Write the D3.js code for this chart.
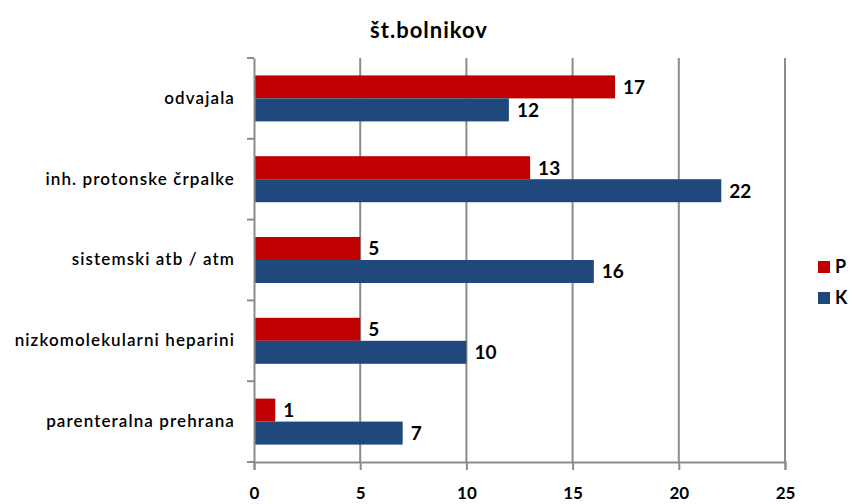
<!DOCTYPE html>
<html>
<head>
<meta charset="utf-8">
<script src="https://cdn.jsdelivr.net/npm/d3@7"></script>
<style>
  body { margin: 0; background: #fff; }
  svg { display: block; }
  text { font-family: Lato, "DejaVu Sans", sans-serif; }
</style>
</head>
<body>
<div id="chart"></div>
<script>
// chart data
const categories = ["odvajala", "inh. protonske črpalke", "sistemski atb / atm", "nizkomolekularni heparini", "parenteralna prehrana"];
const seriesNames = ["P", "K"];
const valuesP = [17, 13, 5, 5, 1];
const valuesK = [12, 22, 16, 10, 7];
const xTicks = [0, 5, 10, 15, 20, 25];
const colors = {P: "#c00000", K: "#1f497d"};

const W = 855, H = 504;
const margin = {top: 58, right: 70, bottom: 42, left: 254};
const width = 785 - margin.left, height = 462 - margin.top;

const svg = d3.select("#chart").append("svg")
  .attr("width", W).attr("height", H);

// title
svg.append("text")
  .attr("x", 429).attr("y", 38)
  .attr("text-anchor", "middle")
  .style("font-size", "22px").style("font-weight", "bold")
  .style("letter-spacing", "1px")
  .text("št.bolnikov");

const g = svg.append("g")
  .attr("transform", "translate(" + margin.left + "," + margin.top + ")");

const x = d3.scaleLinear().domain([0, 25]).range([0, width]);
const y = d3.scaleBand().domain(categories).range([0, height]);
const inner = d3.scaleBand().domain(seriesNames).range([y.bandwidth() / 2 - 23, y.bandwidth() / 2 + 23]);

// vertical gridlines
g.selectAll("line.grid")
  .data(xTicks.slice(1))
  .enter().append("line")
  .attr("class", "grid")
  .attr("x1", d => x(d)).attr("x2", d => x(d))
  .attr("y1", 0).attr("y2", height)
  .attr("stroke", "#8c8c8c").attr("stroke-width", 2);

// bars
const data = [];
categories.forEach((c, i) => {
  data.push({cat: c, s: "P", v: valuesP[i]});
  data.push({cat: c, s: "K", v: valuesK[i]});
});

g.selectAll("rect.bar")
  .data(data)
  .enter().append("rect")
  .attr("class", "bar")
  .attr("x", x(0))
  .attr("y", d => y(d.cat) + inner(d.s))
  .attr("width", d => x(d.v) - x(0))
  .attr("height", inner.bandwidth())
  .attr("fill", d => colors[d.s]);

// value labels
g.selectAll("text.val")
  .data(data)
  .enter().append("text")
  .attr("class", "val")
  .attr("x", d => x(d.v) + 8)
  .attr("y", d => y(d.cat) + inner(d.s) + inner.bandwidth() / 2)
  .attr("dy", "0.36em")
  .style("font-size", "19px").style("font-weight", "bold")
  .text(d => d.v);

// x axis
const xAxis = g.append("g")
  .attr("transform", "translate(0," + height + ")")
  .call(d3.axisBottom(x).tickValues(xTicks).tickSize(8).tickPadding(17));
xAxis.select(".domain").attr("stroke", "#8c8c8c").attr("stroke-width", 2);
xAxis.selectAll(".tick line").attr("stroke", "#8c8c8c").attr("stroke-width", 2);
xAxis.selectAll(".tick text")
  .style("font-size", "17px").style("font-weight", "bold")
  .style("font-family", "Lato, sans-serif").attr("fill", "#000");

// y axis
const yAxis = g.append("g")
  .call(d3.axisLeft(y).tickSize(0).tickPadding(19));
yAxis.select(".domain").attr("stroke", "#8c8c8c").attr("stroke-width", 2);
yAxis.selectAll(".tick text")
  .style("font-size", "17px").style("font-weight", "600")
  .style("letter-spacing", "1.1px")
  .style("font-family", "Lato, sans-serif").attr("fill", "#000");

// category separators on y axis
g.selectAll("line.ysep")
  .data(d3.range(categories.length + 1))
  .enter().append("line")
  .attr("class", "ysep")
  .attr("x1", -7).attr("x2", 0)
  .attr("y1", i => i * y.step()).attr("y2", i => i * y.step())
  .attr("stroke", "#8c8c8c").attr("stroke-width", 2);

// legend
const legend = svg.append("g").attr("transform", "translate(818,261)");
seriesNames.forEach((s, i) => {
  legend.append("rect")
    .attr("x", 0).attr("y", i * 31)
    .attr("width", 12).attr("height", 12)
    .attr("fill", colors[s]);
  legend.append("text")
    .attr("x", 17).attr("y", i * 31 + 6)
    .attr("dy", "0.36em")
    .style("font-size", "18px").style("font-weight", "bold")
    .text(s);
});
</script>
</body>
</html>
